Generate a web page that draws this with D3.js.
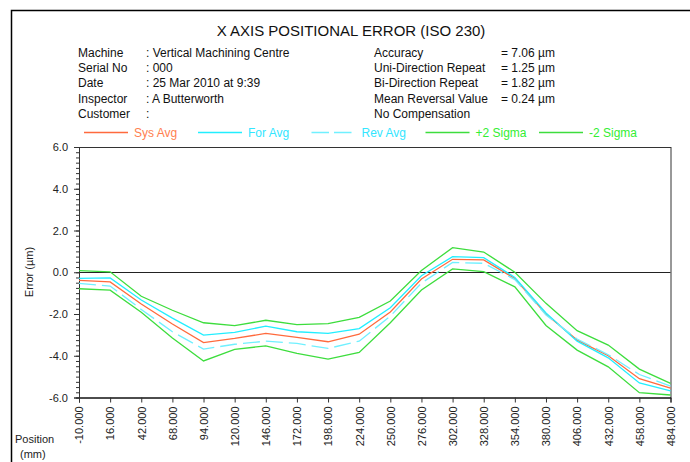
<!DOCTYPE html>
<html>
<head>
<meta charset="utf-8">
<script src="https://cdn.jsdelivr.net/npm/d3@7"></script>
<style>
  body { margin: 0; background: #fff; }
  svg text { font-family: "Liberation Sans", Arial, sans-serif; }
</style>
</head>
<body>
<div id="chart"></div>
<script>
// Chart data
var positions = [-10, 16, 42, 68, 94, 120, 146, 172, 198, 224, 250, 276, 302, 328, 354, 380, 406, 432, 458, 484];
var plus2Sigma  = [0.08, 0.02, -1.15, -1.82, -2.42, -2.56, -2.30, -2.51, -2.46, -2.16, -1.38, 0.08, 1.18, 0.97, 0.00, -1.49, -2.80, -3.49, -4.64, -5.32];
var forAvg      = [-0.29, -0.27, -1.33, -2.20, -3.01, -2.88, -2.58, -2.85, -2.93, -2.70, -1.70, -0.17, 0.75, 0.70, -0.25, -1.95, -3.30, -4.10, -5.30, -5.68];
var sysAvg      = [-0.39, -0.46, -1.52, -2.48, -3.37, -3.17, -2.93, -3.12, -3.33, -2.97, -1.90, -0.32, 0.62, 0.59, -0.30, -2.00, -3.25, -4.00, -5.10, -5.55];
var revAvg      = [-0.53, -0.66, -1.78, -2.85, -3.68, -3.45, -3.30, -3.41, -3.65, -3.30, -2.10, -0.52, 0.47, 0.43, -0.35, -2.05, -3.20, -3.95, -4.90, -5.45];
var minus2Sigma = [-0.79, -0.86, -1.92, -3.15, -4.25, -3.69, -3.53, -3.89, -4.16, -3.84, -2.42, -0.85, 0.16, 0.03, -0.70, -2.55, -3.73, -4.53, -5.77, -5.88];
var yTicks = [6, 4, 2, 0, -2, -4, -6];

var infoLeft = [["Machine", ": Vertical Machining Centre"], ["Serial No", ": 000"], ["Date", ": 25 Mar 2010 at 9:39"], ["Inspector", ": A Butterworth"], ["Customer", ":"]];
var infoRight = [["Accuracy", "= 7.06 µm"], ["Uni-Direction Repeat", "= 1.25 µm"], ["Bi-Direction Repeat", "= 1.82 µm"], ["Mean Reversal Value", "= 0.24 µm"], ["No Compensation", ""]];

// Series setup
var series = [
  { name: "Sys Avg", values: sysAvg, color: "#ff6a3d", text: "#ff7f50", dash: null },
  { name: "For Avg", values: forAvg, color: "#22eeff", text: "#33e6ff", dash: null },
  { name: "Rev Avg", values: revAvg, color: "#70f0ff", text: "#33e6ff", dash: "17,6" },
  { name: "+2 Sigma", values: plus2Sigma, color: "#3ddd3d", text: "#33ee33", dash: null },
  { name: "-2 Sigma", values: minus2Sigma, color: "#3ddd3d", text: "#33ee33", dash: null }
];

var svgWidth = 690;
var svgHeight = 462;

var margin = { top: 147, right: 19.5, bottom: 64.5, left: 79 };
var chartWidth = svgWidth - margin.left - margin.right;
var chartHeight = svgHeight - margin.top - margin.bottom;

// plain hyphen for negative numbers, like the original report
var fmt1 = function(d) { return d3.format(".1f")(d).replace("\u2212", "-"); };
var fmt3 = function(d) { return d3.format(".3f")(d).replace("\u2212", "-"); };

var svg = d3.select("#chart")
  .append("svg")
  .attr("width", svgWidth)
  .attr("height", svgHeight);

// Outer page frame (top and left only)
svg.append("path")
  .attr("d", "M11.5,462 V10.5 H690")
  .attr("fill", "none")
  .attr("stroke", "#000")
  .attr("stroke-width", 1.5);

// Title
svg.append("text")
  .attr("x", 351)
  .attr("y", 36)
  .attr("text-anchor", "middle")
  .attr("font-size", 15)
  .attr("fill", "#111")
  .text("X AXIS POSITIONAL ERROR (ISO 230)");

// Info block
infoLeft.forEach(function(r, i) {
  var y = 57 + i * 15.2;
  svg.append("text").attr("x", 78).attr("y", y).attr("font-size", 12).attr("fill", "#111").text(r[0]);
  svg.append("text").attr("x", 146).attr("y", y).attr("font-size", 12).attr("fill", "#111").text(r[1]);
});
infoRight.forEach(function(r, i) {
  var y = 57 + i * 15.2;
  svg.append("text").attr("x", 374).attr("y", y).attr("font-size", 12).attr("fill", "#111").text(r[0]);
  svg.append("text").attr("x", 501).attr("y", y).attr("font-size", 12).attr("fill", "#111").text(r[1]);
});

// Legend
var legendX = [84, 198, 311.5, 425.5, 539];
series.forEach(function(s, i) {
  var lx = legendX[i];
  svg.append("line")
    .attr("x1", lx).attr("x2", lx + 44)
    .attr("y1", 132.5).attr("y2", 132.5)
    .attr("stroke", s.color)
    .attr("stroke-width", 1.5)
    .attr("stroke-dasharray", s.dash ? "17.5,5" : null);
  svg.append("text")
    .attr("x", lx + 50)
    .attr("y", 137)
    .attr("font-size", 12)
    .attr("fill", s.text)
    .text(s.name);
});

var chartGroup = svg.append("g")
  .attr("transform", `translate(${margin.left}, ${margin.top})`);

// Scales
var xLinearScale = d3.scaleLinear()
  .domain([positions[0], positions[positions.length - 1]])
  .range([0, chartWidth]);

var yLinearScale = d3.scaleLinear()
  .domain([-6, 6])
  .range([chartHeight, 0]);

// Plot frame
chartGroup.append("rect")
  .attr("x", 0.5).attr("y", 0.5)
  .attr("width", chartWidth).attr("height", chartHeight)
  .attr("fill", "none")
  .attr("stroke", "#333")
  .attr("stroke-width", 1);

// Zero line
chartGroup.append("line")
  .attr("x1", 0).attr("x2", chartWidth)
  .attr("y1", Math.round(yLinearScale(0)) + 0.5).attr("y2", Math.round(yLinearScale(0)) + 0.5)
  .attr("stroke", "#222");

// Y axis with minor ticks
var minorTicks = d3.range(-6, 6.01, 0.25);
var leftMinor = d3.axisLeft(yLinearScale).tickValues(minorTicks).tickSize(3).tickFormat("");
chartGroup.append("g").attr("class", "minor").call(leftMinor);

var leftAxis = d3.axisLeft(yLinearScale).tickValues(yTicks).tickSize(5).tickPadding(6)
  .tickFormat(fmt1);
var yAxisG = chartGroup.append("g").call(leftAxis);
yAxisG.selectAll("text").attr("font-size", 11).attr("fill", "#222").style("font-family", "Liberation Sans, Arial, sans-serif");
chartGroup.selectAll(".domain").attr("stroke", "#333");
chartGroup.selectAll(".tick line").attr("stroke", "#333");

// X axis
var bottomAxis = d3.axisBottom(xLinearScale).tickValues(positions).tickSize(5).tickFormat(fmt3);
var xAxisG = chartGroup.append("g")
  .attr("transform", `translate(0, ${chartHeight})`)
  .call(bottomAxis);
xAxisG.selectAll(".tick line").attr("stroke", "#333");
xAxisG.selectAll("text")
  .attr("transform", "rotate(-90)")
  .attr("x", -9)
  .attr("y", 0)
  .attr("dy", "0.35em")
  .attr("text-anchor", "end")
  .attr("font-size", 11)
  .attr("fill", "#222")
  .style("font-family", "Liberation Sans, Arial, sans-serif");

// Series lines
var line = d3.line()
  .x(function(d, i) { return xLinearScale(positions[i]); })
  .y(function(d) { return yLinearScale(d); });

series.forEach(function(s) {
  chartGroup.append("path")
    .datum(s.values)
    .attr("fill", "none")
    .attr("stroke", s.color)
    .attr("stroke-width", 1.3)
    .attr("stroke-dasharray", s.dash)
    .attr("d", line);
});

// Axis titles
svg.append("text")
  .attr("transform", "rotate(-90)")
  .attr("x", -272)
  .attr("y", 33)
  .attr("text-anchor", "middle")
  .attr("font-size", 11)
  .attr("fill", "#222")
  .text("Error (µm)");

svg.append("text")
  .attr("x", 15)
  .attr("y", 443)
  .attr("font-size", 11)
  .attr("fill", "#222")
  .text("Position");

svg.append("text")
  .attr("x", 20)
  .attr("y", 458)
  .attr("font-size", 11)
  .attr("fill", "#222")
  .text("(mm)");
</script>
</body>
</html>
